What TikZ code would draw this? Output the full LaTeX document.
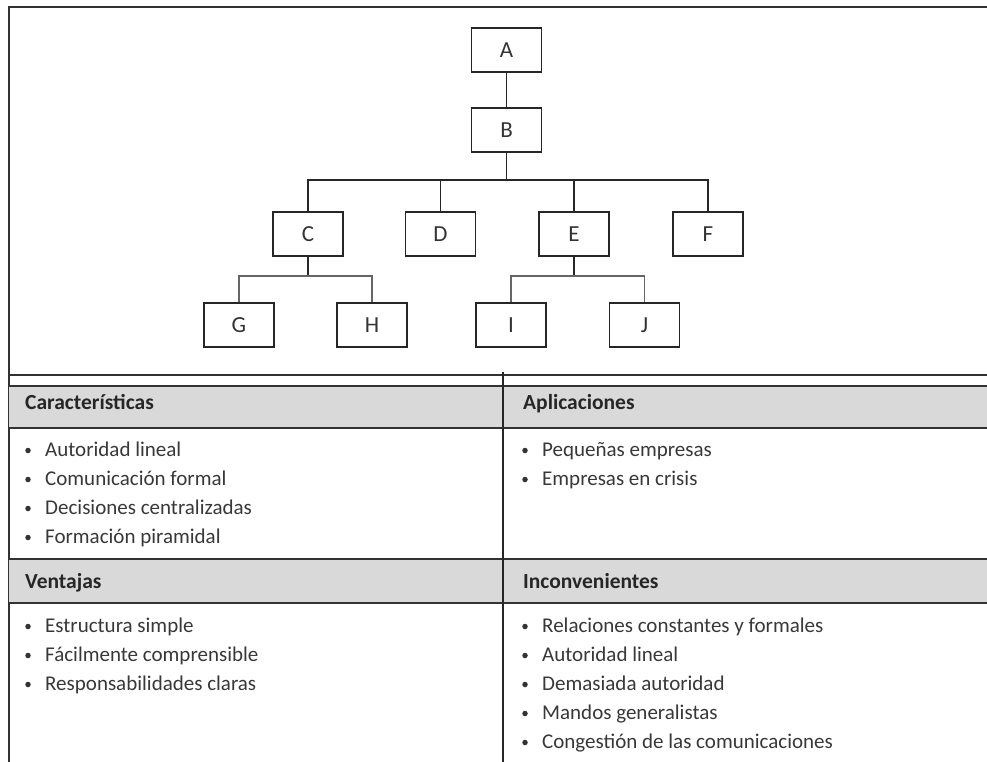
\documentclass[tikz,border=0pt]{standalone}
\usepackage{fontspec}
\setmainfont{Carlito}
\begin{document}
\begin{tikzpicture}[x=1pt,y=-1pt,
  box/.style={draw=black!85,line width=1.6pt,minimum width=70pt,minimum height=44pt,inner sep=0pt,font=\fontsize{23}{24}\selectfont,text=black!80},
  conn/.style={draw=black!85,line width=1.3pt},
  lconn/.style={draw=black!60,line width=1.1pt},
  rule/.style={draw=black!80,line width=2pt},
  head/.style={anchor=base west,inner sep=0pt,font=\bfseries\fontsize{21.5}{22}\selectfont,text=black!85},
  item/.style={anchor=base west,inner sep=0pt,font=\fontsize{21}{22}\selectfont,text=black!78},
  bul/.style={circle,fill=black!80,inner sep=0pt,minimum size=5.5pt}
]
\useasboundingbox (0,0) rectangle (987,762);
% frame
\draw[rule] (987,7) -- (9,7) -- (9,762);
\draw[rule] (9,375) -- (987,375);
% table
\fill[black!15] (9,386) rectangle (987,428);
\fill[black!15] (9,559) rectangle (987,603);
\draw[rule] (9,386) -- (987,386);
\draw[rule] (9,428) -- (987,428);
\draw[rule] (9,559) -- (987,559);
\draw[rule] (9,603) -- (987,603);
\draw[draw=black!85,line width=1.3pt] (503,372) -- (503,762);
% org chart
\node[box] (A) at (506.5,50) {A};
\node[box] (B) at (506.5,130) {B};
\node[box] (C) at (308,234) {C};
\node[box] (D) at (440.5,234) {D};
\node[box] (E) at (574,234) {E};
\node[box] (F) at (708,234) {F};
\node[box] (G) at (239,325) {G};
\node[box] (H) at (372,325) {H};
\node[box] (I) at (511,325) {I};
\node[box] (J) at (644.5,325) {J};
\coordinate (busB) at (506.5,180);
\coordinate (busC) at (308,276);
\coordinate (busE) at (574,276);
\draw[conn] (A) -- (B);
\draw[conn] (B) -- (busB);
\draw[conn] (C.north) |- (busB) -| (F.north);
\draw[conn] (D.north) -- (D.north |- busB);
\draw[conn] (E.north) -- (E.north |- busB);
\draw[conn] (C.south) -- (busC);
\draw[lconn] (G.north) |- (busC) -| (H.north);
\draw[conn] (E.south) -- (busE);
\draw[lconn] (I.north) |- (busE) -| (J.north);
% headers
\node[head] (h1) at (25,409) {Características};
\node[head] (h2) at (523,409) {Aplicaciones};
\node[head] (h3) at (25,588) {Ventajas};
\node[head] (h4) at (523,588) {Inconvenientes};
% items
\foreach \t/\y [count=\i] in {Autoridad lineal/456,Comunicación formal/485,Decisiones centralizadas/514,Formación piramidal/543}{
  \node[bul] (lb\i) at (28,\y-5.5) {};
  \node[item] (l\i) at (45,\y) {\t};
}
\foreach \t/\y [count=\i] in {Pequeñas empresas/456,Empresas en crisis/485}{
  \node[bul] (rb\i) at (525,\y-5.5) {};
  \node[item] (r\i) at (542,\y) {\t};
}
\foreach \t/\y [count=\i] in {Estructura simple/632,Fácilmente comprensible/661,Responsabilidades claras/690}{
  \node[bul] (vb\i) at (28,\y-5.5) {};
  \node[item] (v\i) at (45,\y) {\t};
}
\foreach \t/\y [count=\i] in {Relaciones constantes y formales/632,Autoridad lineal/661,Demasiada autoridad/690,Mandos generalistas/719,Congestión de las comunicaciones/748}{
  \node[bul] (ib\i) at (525,\y-5.5) {};
  \node[item] (in\i) at (542,\y) {\t};
}
\end{tikzpicture}
\end{document}
